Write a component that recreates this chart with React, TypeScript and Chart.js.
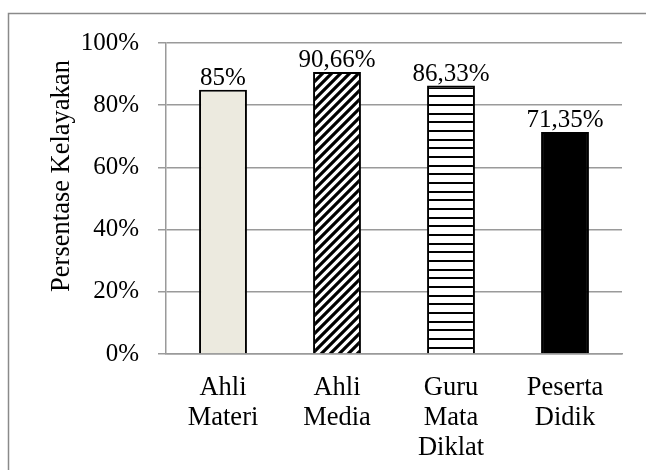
import React, { useEffect, useRef } from "react";
import { Chart, registerables } from "chart.js";

Chart.register(...registerables);

const categories: string[][] = [
  ["Ahli", "Materi"],
  ["Ahli", "Media"],
  ["Guru", "Mata", "Diklat"],
  ["Peserta", "Didik"],
];
const values: number[] = [0.85, 0.9066, 0.8633, 0.7135];
const valueLabels: string[] = ["85%", "90,66%", "86,33%", "71,35%"];
const yTickValues: number[] = [0, 0.2, 0.4, 0.6, 0.8, 1.0];
const yTitle = "Persentase Kelayakan";

const FONT = '"Liberation Serif", "Times New Roman", serif';

function makeDiagonal(): CanvasPattern | string {
  const c = document.createElement("canvas");
  const s = 9;
  c.width = s;
  c.height = s;
  const ctx = c.getContext("2d")!;
  ctx.fillStyle = "#ffffff";
  ctx.fillRect(0, 0, s, s);
  ctx.strokeStyle = "#000000";
  ctx.lineWidth = 3.2;
  ctx.beginPath();
  ctx.moveTo(-s, s * 2);
  ctx.lineTo(s * 2, -s);
  ctx.moveTo(-s, s);
  ctx.lineTo(s, -s);
  ctx.moveTo(0, s * 2);
  ctx.lineTo(s * 2, 0);
  ctx.stroke();
  return ctx.createPattern(c, "repeat") || "#000";
}

function makeHorizontal(): CanvasPattern | string {
  const c = document.createElement("canvas");
  c.width = 4;
  c.height = 26;
  const ctx = c.getContext("2d")!;
  ctx.fillStyle = "#ffffff";
  ctx.fillRect(0, 0, 4, 26);
  ctx.fillStyle = "#000000";
  [0, 9, 17].forEach((y) => ctx.fillRect(0, y, 4, 2));
  return ctx.createPattern(c, "repeat") || "#000";
}

export default function App() {
  const ref = useRef<HTMLCanvasElement | null>(null);

  useEffect(() => {
    const canvas = ref.current;
    if (!canvas) return;

    const framePlugin = {
      id: "frame",
      beforeDraw(chart: any) {
        const ctx = chart.ctx;
        ctx.save();
        ctx.strokeStyle = "#8a8a8a";
        ctx.lineWidth = 1.5;
        ctx.beginPath();
        ctx.moveTo(8.5, 470);
        ctx.lineTo(8.5, 13.5);
        ctx.lineTo(646, 13.5);
        ctx.stroke();
        ctx.restore();
      },
    };

    const labelPlugin = {
      id: "valueLabels",
      afterDatasetsDraw(chart: any) {
        const ctx = chart.ctx;
        const meta = chart.getDatasetMeta(0);
        ctx.save();
        ctx.font = `25px ${FONT}`;
        ctx.fillStyle = "#000";
        ctx.textAlign = "center";
        ctx.textBaseline = "alphabetic";
        meta.data.forEach((bar: any, i: number) => {
          ctx.fillText(valueLabels[i], bar.x, bar.y - 5);
        });
        // y-axis title
        ctx.font = `26.5px ${FONT}`;
        ctx.translate(62, 176);
        ctx.rotate(-Math.PI / 2);
        ctx.textBaseline = "middle";
        ctx.fillText(yTitle, 0, 0);
        ctx.restore();
      },
    };

    const chart = new Chart(canvas, {
      type: "bar",
      data: {
        labels: categories,
        datasets: [
          {
            data: values,
            backgroundColor: ["#ECEADF", makeDiagonal(), makeHorizontal(), "#000000"] as any,
            borderColor: "#000000",
            borderWidth: 2,
            barPercentage: 0.42,
            categoryPercentage: 1,
          },
        ],
      },
      options: {
        responsive: false,
        animation: false,
        devicePixelRatio: 1,
        layout: { padding: { left: 8, top: 43, right: 24, bottom: 0 } },
        plugins: {
          legend: { display: false },
          tooltip: { enabled: false },
        },
        scales: {
          x: {
            grid: { display: false, drawTicks: false, tickLength: 0 },
            border: { display: true, color: "#9a9a9a", width: 1.5 },
            ticks: {
              color: "#000",
              font: { family: FONT, size: 26.5, lineHeight: "30px" },
              padding: 19,
              maxRotation: 0,
              autoSkip: false,
            },
            afterFit: (scale: any) => {
              scale.height = 116;
            },
          },
          y: {
            min: 0,
            max: 1,
            afterBuildTicks: (scale: any) => {
              scale.ticks = yTickValues.map((v) => ({ value: v }));
            },
            grid: { color: "#9a9a9a", lineWidth: 1.5, tickLength: 8 },
            border: { display: true, color: "#9a9a9a", width: 1.5 },
            ticks: {
              color: "#000",
              font: { family: FONT, size: 25 },
              padding: 19,
              callback: (v: any) => Math.round(Number(v) * 100) + "%",
            },
            afterFit: (scale: any) => {
              scale.width = 158;
            },
          },
        },
      },
      plugins: [framePlugin, labelPlugin],
    });

    return () => chart.destroy();
  }, []);

  return (
    <div style={{ position: "fixed", left: 0, top: 0, width: 646, height: 470, background: "#fff" }}>
      <canvas ref={ref} width={646} height={470} style={{ width: 646, height: 470, display: "block" }} />
    </div>
  );
}
